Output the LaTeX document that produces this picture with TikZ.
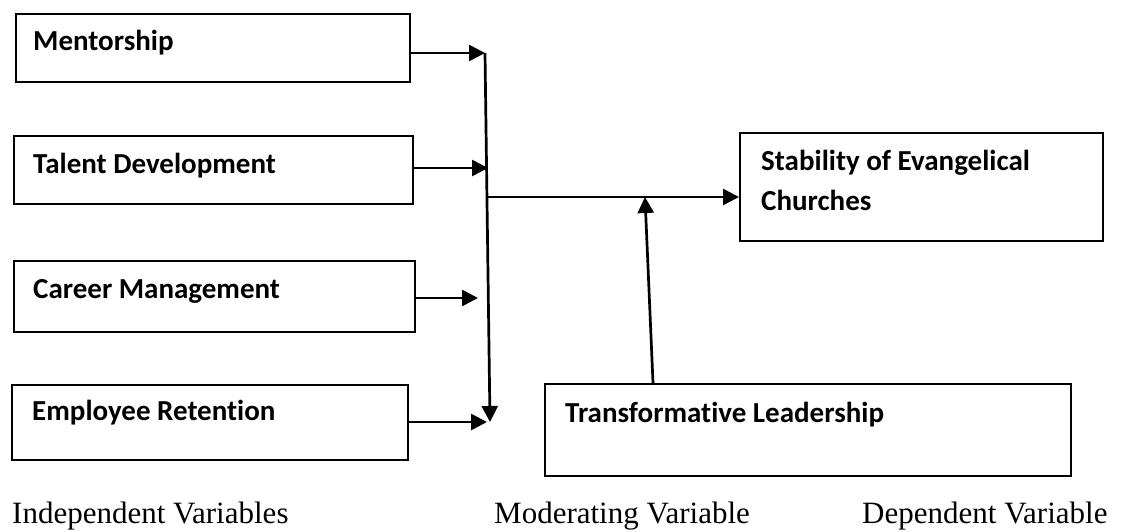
\documentclass[tikz,border=0pt]{standalone}
\usepackage{fontspec}
\setmainfont{Liberation Serif}
\newfontfamily\boxfont[Ligatures={NoCommon},BoldFont={Carlito Bold}]{Carlito}
\newfontfamily\lblfont{Liberation Serif}
\usetikzlibrary{arrows.meta}
\begin{document}
\begin{tikzpicture}[x=1pt,y=-1pt,
  box/.style={draw=black,line width=2.2pt,rectangle,inner sep=0pt,anchor=north west},
  boxtext/.style={anchor=base west,inner sep=0pt,font=\boxfont\bfseries\fontsize{29}{34}\selectfont},
  vartext/.style={anchor=base west,inner sep=0pt,font=\lblfont\fontsize{31}{34}\selectfont},
  arr/.style={line width=2.7pt,-{Triangle[length=16pt,width=16pt]}},
  ln/.style={line width=2.7pt}]
\useasboundingbox (0,0) rectangle (1130,531);
% boxes
\node[box,minimum width=394pt,minimum height=68pt] (m) at (15,13) {};
\node[box,minimum width=399pt,minimum height=68pt] (td) at (13,135) {};
\node[box,minimum width=401pt,minimum height=71pt] (cm) at (13,260) {};
\node[box,minimum width=396pt,minimum height=75pt] (er) at (11,384) {};
\node[box,minimum width=363pt,minimum height=108pt] (s) at (739,132) {};
\node[box,minimum width=526pt,minimum height=92pt] (tl) at (544,383) {};
% box texts
\node[boxtext] (mt) at (33,50) {Mentorship};
\node[boxtext] (tdt) at (33,173) {Talent Development};
\node[boxtext] (cmt) at (33,298) {Career Management};
\node[boxtext] (ert) at (32,420) {Employee Retention};
\node[boxtext] (st1) at (761,170) {Stability of Evangelical};
\node[boxtext] (st2) at (761,210) {Churches};
\node[boxtext] (tlt) at (565,422) {Transformative Leadership};
% bottom labels
\node[vartext] (iv) at (12,523) {Independent Variables};
\node[vartext] (mv) at (494,523) {Moderating Variable};
\node[vartext] (dv) at (862,523) {Dependent Variable};
% junction coordinates
\coordinate (j1) at (485,53);
\coordinate (j2) at (488,168);
\coordinate (j3) at (478,298);
\coordinate (j4) at (487,422);
\coordinate (vb) at (490,422);
\coordinate (h0) at (487,197);
\coordinate (up) at (645,197);
\coordinate (tlb) at (653,383);
% connectors
\draw[arr] (m.east |- j1) -- (j1);
\draw[arr] (td.east |- j2) -- (j2);
\draw[arr] (cm.east |- j3) -- (j3);
\draw[arr] (er.east |- j4) -- (j4);
\draw[arr] (j1) -- (vb);
\draw[arr] (h0) -- (s.west |- h0);
\draw[arr] (tlb) -- (up);
\end{tikzpicture}
\end{document}
